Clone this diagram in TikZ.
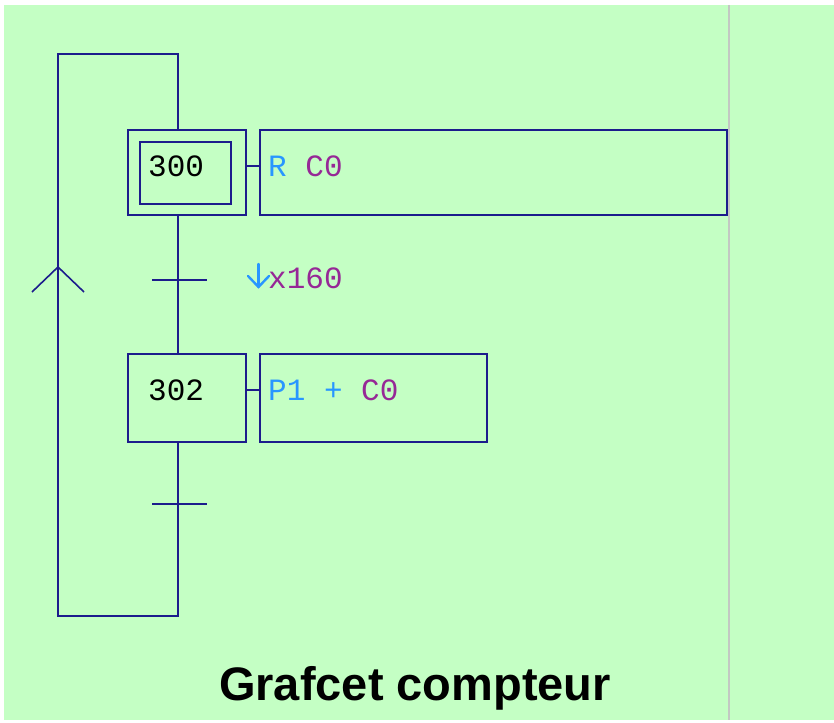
\documentclass[tikz,border=0pt]{standalone}
\usepackage{fontspec}
\setmainfont{Liberation Sans}
\setmonofont{Liberation Mono}
\definecolor{bggreen}{RGB}{196,255,196}
\definecolor{gline}{RGB}{28,28,140}
\definecolor{sep}{RGB}{195,200,195}
\definecolor{kblue}{RGB}{40,150,255}
\definecolor{kpurple}{RGB}{150,40,150}
\begin{document}
\begin{tikzpicture}[x=1pt,y=-1pt,
  box/.style={draw=gline,line width=2pt,rectangle,inner sep=0pt},
  link/.style={draw=gline,line width=2pt},
  mono/.style={inner sep=0pt,anchor=base west,font=\ttfamily\fontsize{31}{31}\selectfont}]
\useasboundingbox (0,0) rectangle (834,722);
\fill[white] (0,0) rectangle (834,722);
\fill[bggreen] (4,5) rectangle (834,720);
\draw[sep,line width=2pt] (729,5) -- (729,720);
% steps
\node[box,minimum width=118pt,minimum height=85pt] (s300o) at (187,172.5) {};
\node[box,minimum width=91pt,minimum height=62pt] (s300i) at (185.5,173) {};
\node[mono] (t300) at (148,176) {300};
\node[box,minimum width=467pt,minimum height=85pt] (a300) at (493.5,172.5) {};
\node[mono] (ta300) at (268,176) {\textcolor{kblue}{R} \textcolor{kpurple}{C0}};
\node[box,minimum width=118pt,minimum height=88pt] (s302) at (187,398) {};
\node[mono] (t302) at (148,400) {302};
\node[box,minimum width=227pt,minimum height=88pt] (a302) at (373.5,398) {};
\node[mono] (ta302) at (268,400) {\textcolor{kblue}{P1 +} \textcolor{kpurple}{C0}};
% links step-action
\draw[link] (s300o.east |- 0,166) -- (a300.west |- 0,166);
\draw[link] (s302.east |- 0,390) -- (a302.west |- 0,390);
% transitions
\coordinate (tr1) at (178,280);
\coordinate (tr2) at (178,504);
\draw[link] (s300o.south -| tr1) -- (s302.north -| tr1);
\draw[link] (152,280) -- (207,280);
\node[mono] (r1t) at (268,288) {\textcolor{kpurple}{x160}};
% falling-edge arrow
\coordinate (fe) at (258.5,287);
\draw[kblue,line width=2.4pt,line cap=round] (258.5,264) -- (fe);
\draw[kblue,line width=2.4pt,line cap=round,line join=miter] (248,276) -- (fe) -- (269,276);
\draw[link] (152,504) -- (207,504);
% loop back
\coordinate (c1) at (178,616);
\coordinate (c2) at (58,616);
\coordinate (c3) at (58,54);
\coordinate (c4) at (178,54);
\draw[link,line join=miter] (s302.south -| tr2) -- (c1) -- (c2) -- (c3) -- (c4) -- (s300o.north -| c4);
\coordinate (ah) at (58,267);
\draw[gline,line width=1.6pt] (32,292) -- (ah) -- (84,292);
% title
\node[inner sep=0pt,anchor=base] (title) at (415,700) {\fontsize{47}{47}\selectfont\bfseries Grafcet compteur};
\end{tikzpicture}
\end{document}
